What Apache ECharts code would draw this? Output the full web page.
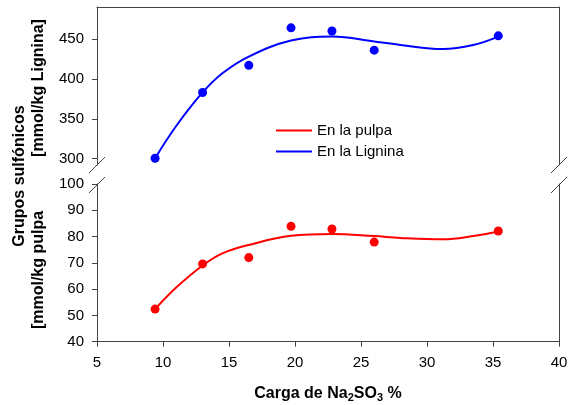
<!DOCTYPE html>
<html>
<head>
<meta charset="utf-8">
<script src="https://cdn.jsdelivr.net/npm/echarts@6/dist/echarts.min.js"></script>
<style>
html,body{margin:0;padding:0;background:#fff;}
#c{width:571px;height:405px;}
</style>
</head>
<body>
<div id="c"></div>
<script>
// Measured points
var carga   = [9.4, 13.0, 16.5, 19.7, 22.8, 26.0, 35.4];
var lignina = [300.5, 383, 417, 464, 460, 436, 454];
var pulpa   = [52.4, 69.6, 72.0, 83.9, 82.9, 77.9, 82.1];

// Fitted curves
var curveX     = [9.4, 11, 13, 14.5, 16.5, 19.7, 22.8, 26, 28, 31.2, 33.5, 35.4];
var ligninaFit = [300.5, 341, 383, 407, 428, 448, 453, 447, 442.5, 437.5, 442.5, 453];
var pulpaFit   = [52.4, 60.6, 69.0, 73.6, 76.8, 80.3, 81.0, 80.2, 79.5, 79.0, 80.2, 81.9];

// Tick labels
var xTicks     = [5, 10, 15, 20, 25, 30, 35, 40];
var upperTicks = [300, 350, 400, 450];
var lowerTicks = [40, 50, 60, 70, 80, 90, 100];

var seriesNames = ['En la pulpa', 'En la Lignina'];

function pairs(xs, ys) { return xs.map(function (x, i) { return [x, ys[i]]; }); }

var FONT = 'Liberation Sans, Arial, sans-serif';
var AX = '#444';
var chart = echarts.init(document.getElementById('c'), null, {renderer: 'canvas'});

var gridL = 97, gridR = 12;
var upTop = 7, upBottomY = 165;
var loTop = 184, loBottomY = 341.7;

function hiddenAxisBase() {
  return {
    axisLine: {show: true, lineStyle: {color: AX, width: 1}},
    axisTick: {show: false}, axisLabel: {show: false}, splitLine: {show: false}
  };
}

var option = {
  backgroundColor: '#fff',
  animation: false,
  textStyle: {fontFamily: FONT},
  grid: [
    {left: gridL, right: gridR, top: upTop, height: upBottomY - upTop},
    {left: gridL, right: gridR, top: loTop, height: loBottomY - loTop}
  ],
  legend: {
    left: 271, top: 117, orient: 'vertical',
    itemWidth: 36, itemHeight: 2, itemGap: 4,
    data: seriesNames.map(function (n) { return {name: n, icon: 'rect'}; }),
    textStyle: {fontFamily: FONT, fontSize: 15, color: '#000', lineHeight: 17}
  },
  xAxis: [
    Object.assign(hiddenAxisBase(), {gridIndex: 0, type: 'value', min: 5, max: 40, position: 'top'}),
    {
      gridIndex: 1, type: 'value', min: 5, max: 40, interval: 5, position: 'bottom',
      axisLine: {show: true, onZero: false, lineStyle: {color: AX, width: 1}},
      axisTick: {show: true, length: 5, lineStyle: {color: AX}, customValues: xTicks},
      axisLabel: {color: '#000', fontSize: 15, fontFamily: FONT, margin: 14, customValues: xTicks},
      splitLine: {show: false},
      name: 'Carga de Na{s|2}SO{s|3} %',
      nameLocation: 'middle', nameGap: 42,
      nameTextStyle: {
        color: '#000', fontSize: 16, fontWeight: 'bold', fontFamily: FONT,
        rich: {s: {fontSize: 11, fontWeight: 'bold', fontFamily: FONT, color: '#000', padding: [9, 0, 0, 0]}}
      }
    }
  ],
  yAxis: [
    {
      gridIndex: 0, type: 'value', min: 292.1, max: 490.1, position: 'left',
      axisLine: {show: true, onZero: false, lineStyle: {color: AX, width: 1}},
      axisTick: {show: true, length: 5, lineStyle: {color: AX}, customValues: upperTicks},
      axisLabel: {color: '#000', fontSize: 15, fontFamily: FONT, margin: 13, customValues: upperTicks},
      splitLine: {show: false}
    },
    Object.assign(hiddenAxisBase(), {gridIndex: 0, type: 'value', min: 292.1, max: 490.1, position: 'right'}),
    {
      gridIndex: 1, type: 'value', min: 40, max: 100, position: 'left',
      axisLine: {show: true, onZero: false, lineStyle: {color: AX, width: 1}},
      axisTick: {show: true, length: 5, lineStyle: {color: AX}, customValues: lowerTicks},
      axisLabel: {color: '#000', fontSize: 15, fontFamily: FONT, margin: 13, customValues: lowerTicks},
      splitLine: {show: false}
    },
    Object.assign(hiddenAxisBase(), {gridIndex: 1, type: 'value', min: 40, max: 100, position: 'right'})
  ],
  series: [
    {
      name: 'En la pulpa', type: 'line', xAxisIndex: 1, yAxisIndex: 2,
      data: pairs(curveX, pulpaFit), smooth: 0.4, symbol: 'none',
      lineStyle: {color: '#ff0000', width: 2}, itemStyle: {color: '#ff0000'}, z: 2
    },
    {
      name: 'En la Lignina', type: 'line', xAxisIndex: 0, yAxisIndex: 0,
      data: pairs(curveX, ligninaFit), smooth: 0.4, symbol: 'none',
      lineStyle: {color: '#0000ff', width: 2}, itemStyle: {color: '#0000ff'}, z: 2
    },
    {
      name: 'pulpa pts', type: 'scatter', xAxisIndex: 1, yAxisIndex: 2,
      data: pairs(carga, pulpa), symbol: 'circle', symbolSize: 9,
      itemStyle: {color: '#ff0000', opacity: 1}, z: 3
    },
    {
      name: 'lignina pts', type: 'scatter', xAxisIndex: 0, yAxisIndex: 0,
      data: pairs(carga, lignina), symbol: 'circle', symbolSize: 9,
      itemStyle: {color: '#0000ff', opacity: 1}, z: 3
    }
  ],
  graphic: []
};

chart.setOption(option);

// Decorations: axis-break marks and rotated y-axis titles
var xLeft = gridL, xRight = 571 - gridR;
var breaks = [upBottomY, loTop + 1];
var g = [];
[xLeft, xRight].forEach(function (x) {
  breaks.forEach(function (y) {
    g.push({type: 'line', shape: {x1: x - 8, y1: y + 8, x2: x + 8, y2: y - 8},
            style: {stroke: AX, lineWidth: 1}, z: 10});
  });
});
var titles = [
  {text: 'Grupos sulfónicos', x: 20, y: 176},
  {text: '[mmol/kg Lignina]', x: 39, y: 88},
  {text: '[mmol/kg pulpa', x: 39, y: 270}
];
titles.forEach(function (t) {
  g.push({type: 'text', x: t.x, y: t.y, rotation: Math.PI / 2,
          style: {text: t.text, x: 0, y: 0, align: 'center', verticalAlign: 'middle',
                  font: 'bold 16px ' + FONT, fill: '#000'}, z: 10});
});
chart.setOption({graphic: g});
</script>
</body>
</html>
